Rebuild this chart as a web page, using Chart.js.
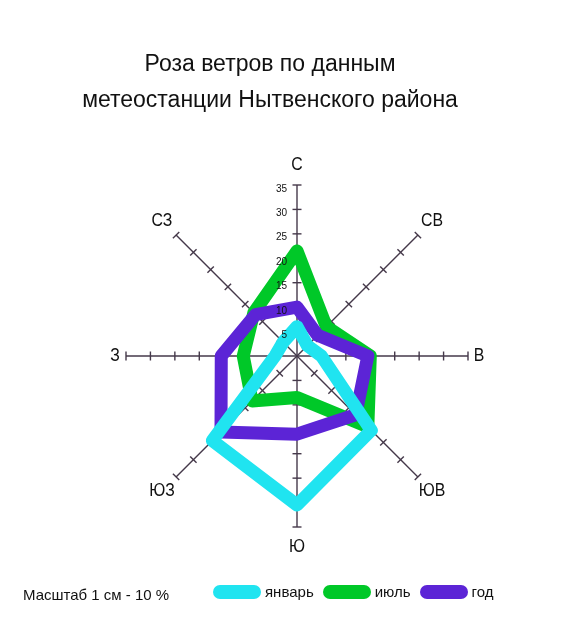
<!DOCTYPE html>
<html><head><meta charset="utf-8">
<script src="https://cdn.jsdelivr.net/npm/chart.js@4/dist/chart.umd.min.js"></script>
<style>
html,body{margin:0;padding:0;background:#fff;}
#wrap{position:relative;width:573px;height:631px;overflow:hidden;font-family:"Liberation Sans",Arial,sans-serif;color:#111;}
#chart{position:absolute;left:0;top:0;}
#title{position:absolute;left:0;top:45px;width:540px;text-align:center;font-size:23px;line-height:36px;}
#note{position:absolute;left:23px;top:585px;font-size:15px;line-height:20px;white-space:nowrap;}
#legend{position:absolute;left:213px;top:583px;display:flex;align-items:center;height:18px;font-size:15px;line-height:18px;white-space:nowrap;}
.item{display:flex;align-items:center;margin-right:9px;}
.pill{width:48px;height:14px;border-radius:7px;margin-right:4px;}
</style></head><body>
<div id="wrap">
<canvas id="chart" width="573" height="631"></canvas>
<div id="title">Роза ветров по данным<br>метеостанции Нытвенского района</div>
<div id="note">Масштаб 1 см - 10 %</div>
<div id="legend"></div>
</div>
<script>
// Directions (clockwise from North)
const directions = ['С', 'СВ', 'В', 'ЮВ', 'Ю', 'ЮЗ', 'З', 'СЗ'];
// Wind frequency, %
const january = [6, 3, 5, 21.5, 30.5, 24.5, 4.5, 4];
const july    = [21.5, 8.5, 15, 20.5, 8.5, 13, 11, 12.5];
const year    = [10, 6, 14.5, 17, 16, 22, 15.5, 12];
const seriesNames = ['январь', 'июль', 'год'];
const tickValues = [5, 10, 15, 20, 25, 30, 35];
const tickLabels = ['5', '10', '15', '20', '25', '30', '35'];

const COLORS = ['#20E4F0', '#00C828', '#5C24D6'];
const AXIS = '#45394a';
const FONT = '"Liberation Sans", Arial, sans-serif';

const axisDecor = {
  id: 'axisDecor',
  beforeDatasetsDraw(chart) {
    const s = chart.scales.r, ctx = chart.ctx;
    ctx.save();
    ctx.strokeStyle = AXIS; ctx.lineWidth = 1.4;
    for (let i = 0; i < directions.length; i++) {
      for (const v of tickValues) {
        const p = s.getPointPosition(i, s.getDistanceFromCenterForValue(v));
        const px = -Math.sin(p.angle), py = Math.cos(p.angle);
        ctx.beginPath();
        ctx.moveTo(p.x - px * 4.5, p.y - py * 4.5);
        ctx.lineTo(p.x + px * 4.5, p.y + py * 4.5);
        ctx.stroke();
      }
    }
    ctx.restore();
  },
  afterDatasetsDraw(chart) {
    const s = chart.scales.r, ctx = chart.ctx;
    ctx.save();
    ctx.fillStyle = '#111';
    ctx.font = '10px ' + FONT;
    ctx.textAlign = 'right';
    ctx.textBaseline = 'alphabetic';
    tickValues.forEach((v, k) => {
      const p = s.getPointPosition(0, s.getDistanceFromCenterForValue(v));
      ctx.fillText(tickLabels[k], p.x - 10, p.y + 6.5);
    });
    ctx.font = '18px ' + FONT;
    ctx.textAlign = 'center';
    ctx.textBaseline = 'middle';
    directions.forEach((d, i) => {
      const off = (i % 4 === 2) ? 11 : 20;
      const p = s.getPointPosition(i, s.drawingArea + off);
      ctx.save();
      ctx.translate(p.x, p.y);
      ctx.scale(0.88, 1);
      ctx.fillText(d, 0, 0);
      ctx.restore();
    });
    ctx.restore();
  }
};

const seriesData = [january, july, year];
const drawOrder = [1, 3, 2];
const chart = new Chart(document.getElementById('chart'), {
  type: 'radar',
  data: {
    labels: directions,
    datasets: seriesData.map((d, k) => ({
      label: seriesNames[k],
      data: d,
      borderColor: COLORS[k],
      backgroundColor: COLORS[k],
      borderWidth: 13,
      borderJoinStyle: 'round',
      borderCapStyle: 'round',
      fill: false,
      pointRadius: 0,
      pointHoverRadius: 0,
      tension: 0,
      order: drawOrder[k]
    }))
  },
  options: {
    responsive: false,
    animation: false,
    devicePixelRatio: 1,
    layout: { padding: { left: 126, right: 105, top: 185, bottom: 104 } },
    plugins: { legend: { display: false }, tooltip: { enabled: false }, title: { display: false } },
    scales: {
      r: {
        min: 0, max: 35,
        startAngle: 0,
        ticks: { display: false, stepSize: 5 },
        grid: { display: false },
        angleLines: { display: true, color: AXIS, lineWidth: 1.4 },
        pointLabels: { display: false }
      }
    }
  },
  plugins: [axisDecor]
});

// HTML legend built from the chart's datasets
const leg = document.getElementById('legend');
chart.data.datasets.forEach(ds => {
  const it = document.createElement('div'); it.className = 'item';
  const pill = document.createElement('div'); pill.className = 'pill'; pill.style.background = ds.borderColor;
  const tx = document.createElement('span'); tx.textContent = ds.label;
  it.appendChild(pill); it.appendChild(tx); leg.appendChild(it);
});
</script>
</body></html>
